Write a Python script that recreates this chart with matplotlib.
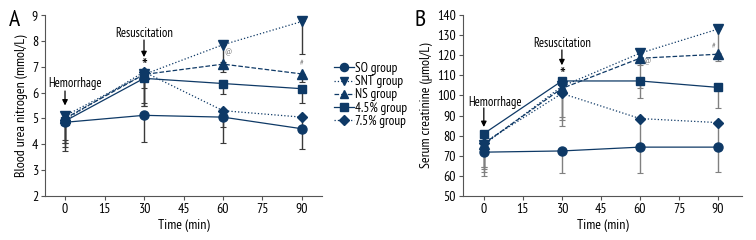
import matplotlib
matplotlib.use("Agg")
import matplotlib.pyplot as plt
import numpy as np

plt.rcParams['font.family'] = ['PT Sans Narrow', 'DejaVu Sans']

times = [0, 30, 60, 90]
groups = ['SO group', 'SNT group', 'NS group', '4.5% group', '7.5% group']
markers = ['o', 'v', '^', 's', 'D']
styles = ['-', ':', '--', '-', ':']
msizes = [6.5, 6.5, 6.5, 6, 5.5]

# blood urea nitrogen (mmol/L), mean and lower error
bun = [
    [4.85, 5.12, 5.05, 4.6],
    [5.1, 6.7, 7.85, 8.75],
    [5.0, 6.7, 7.1, 6.72],
    [4.9, 6.55, 6.35, 6.15],
    [4.95, 6.8, 5.3, 5.05],
]
bun_err = [
    [1.11, 1.03, 1.0, 0.8],
    [1.2, 0.52, 0.65, 1.25],
    [0.95, 1.1, 0.3, 0.3],
    [0.73, 1.07, 0.4, 0.55],
    [0.9, 1.3, 0.65, 0.35],
]

# serum creatinine (umol/L), mean and lower error
scr = [
    [71.8, 72.4, 74.3, 74.3],
    [75.5, 104.5, 121, 133],
    [76, 103.5, 118.5, 120.5],
    [81, 107.2, 107.2, 104],
    [76.5, 101, 88.5, 86.5],
]
scr_err = [
    [11.8, 11.0, 12.9, 12.3],
    [13.5, 15.2, 6, 12],
    [12.6, 15.7, 15, 3.5],
    [16.6, 7, 8.7, 10.3],
    [12, 16.2, 13.5, 11.5],
]

navy = '#0e3966'

fig = plt.figure(figsize=(7.56, 2.40), dpi=100)
axA = fig.add_axes([45/756, 1-196/240, 277/756, 181/240])
axB = fig.add_axes([463/756, 1-196/240, 279/756, 181/240])


def draw(ax, means, errs, ecolor):
    handles = []
    for i in range(len(groups)):
        m = np.array(means[i])
        e = np.array(errs[i])
        ax.errorbar(times, m, yerr=[e, np.zeros_like(e)], fmt='none',
                    ecolor=ecolor, elinewidth=1.0, capsize=2.5, capthick=0.8, zorder=2)
        h, = ax.plot(times, m, linestyle=styles[i], color=navy, lw=0.9,
                     marker=markers[i], ms=msizes[i], mfc=navy, mec=navy, zorder=3)
        handles.append(h)
    for s in ['top', 'right']:
        ax.spines[s].set_visible(False)
    for s in ['left', 'bottom']:
        ax.spines[s].set_color('#555555')
        ax.spines[s].set_linewidth(0.8)
    ax.set_xticks([0, 15, 30, 45, 60, 75, 90])
    ax.tick_params(labelsize=10, length=3, width=0.8, color='#555555', pad=2)
    ax.set_xlabel('Time (min)', fontsize=10, labelpad=2)
    return handles


def mark(ax, label, tx, ty, x, y0, y1):
    # label text, then a down arrow from y0 to y1 at time x
    ax.text(tx, ty, label, ha='center', va='center', fontsize=9)
    ax.annotate('', xy=(x, y1), xytext=(x, y0),
                arrowprops=dict(arrowstyle='-|>', color='black', lw=0.9,
                                mutation_scale=8, shrinkA=0, shrinkB=0))


handles = draw(axA, bun, bun_err, '#3a3a3a')
axA.set_xlim(-7.6, 97.6)
axA.set_ylim(2, 9)
axA.set_yticks(range(2, 10))
axA.set_ylabel('Blood urea nitrogen (mmol/L)', fontsize=10, labelpad=3)
mark(axA, 'Hemorrhage', 3.8, 6.37, 0, 6.06, 5.5)
mark(axA, 'Resuscitation', 30, 8.3, 30, 8.03, 7.37)
axA.text(30, 7.0, '*', ha='center', va='center', fontsize=14)
axA.text(62, 7.55, '@', ha='center', va='center', fontsize=6, color='#777777')
axA.text(90, 7.15, '#', ha='center', va='center', fontsize=6, color='#777777')
axA.legend(handles, groups, loc='upper left', bbox_to_anchor=(1.025, 0.77), frameon=False,
           fontsize=9.5, handlelength=1.5, handletextpad=0.1, labelspacing=0.02, borderaxespad=0,
           markerscale=0.9)

draw(axB, scr, scr_err, '#808080')
axB.set_xlim(-8, 99.2)
axB.set_ylim(50, 140)
axB.set_yticks(range(50, 141, 10))
axB.set_ylabel('Serum creatinine (\u03bcmol/L)', fontsize=10, labelpad=3)
mark(axB, 'Hemorrhage', 4.2, 96.7, 0, 93.8, 84.3)
mark(axB, 'Resuscitation', 30, 126, 30, 122.6, 115)
axB.text(30, 109.5, '*', ha='center', va='center', fontsize=14)
axB.text(62.7, 117, '@', ha='center', va='center', fontsize=6, color='#777777')
axB.text(88.3, 124.6, '#', ha='center', va='center', fontsize=6, color='#777777')

fig.text(9/756, 1-20/240, 'A', fontsize=17, ha='left', va='center')
fig.text(415/756, 1-20/240, 'B', fontsize=17, ha='left', va='center')

fig.savefig('out.png', dpi=100)
